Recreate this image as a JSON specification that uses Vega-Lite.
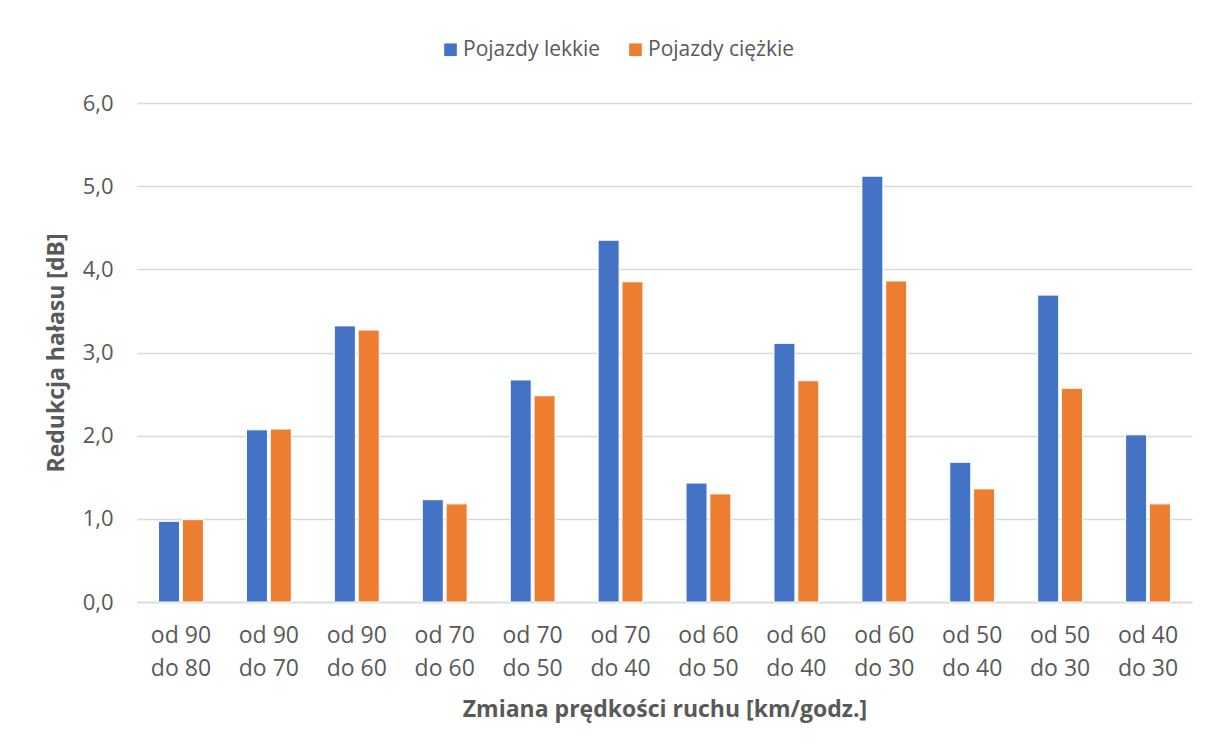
{
  "$schema": "https://vega.github.io/schema/vega-lite/v6.json",
  "width": 1055,
  "height": 499,
  "autosize": {"type": "none"},
  "padding": {"left": 137, "top": 103, "right": 16, "bottom": 149},
  "background": "white",
  "data": {
    "values": [
      {"zmiana": "od 90 do 80", "typ": "Pojazdy lekkie", "v": 0.97},
      {"zmiana": "od 90 do 80", "typ": "Pojazdy ciężkie", "v": 0.99},
      {"zmiana": "od 90 do 70", "typ": "Pojazdy lekkie", "v": 2.07},
      {"zmiana": "od 90 do 70", "typ": "Pojazdy ciężkie", "v": 2.08},
      {"zmiana": "od 90 do 60", "typ": "Pojazdy lekkie", "v": 3.32},
      {"zmiana": "od 90 do 60", "typ": "Pojazdy ciężkie", "v": 3.27},
      {"zmiana": "od 70 do 60", "typ": "Pojazdy lekkie", "v": 1.23},
      {"zmiana": "od 70 do 60", "typ": "Pojazdy ciężkie", "v": 1.18},
      {"zmiana": "od 70 do 50", "typ": "Pojazdy lekkie", "v": 2.67},
      {"zmiana": "od 70 do 50", "typ": "Pojazdy ciężkie", "v": 2.48},
      {"zmiana": "od 70 do 40", "typ": "Pojazdy lekkie", "v": 4.35},
      {"zmiana": "od 70 do 40", "typ": "Pojazdy ciężkie", "v": 3.85},
      {"zmiana": "od 60 do 50", "typ": "Pojazdy lekkie", "v": 1.43},
      {"zmiana": "od 60 do 50", "typ": "Pojazdy ciężkie", "v": 1.30},
      {"zmiana": "od 60 do 40", "typ": "Pojazdy lekkie", "v": 3.11},
      {"zmiana": "od 60 do 40", "typ": "Pojazdy ciężkie", "v": 2.66},
      {"zmiana": "od 60 do 30", "typ": "Pojazdy lekkie", "v": 5.12},
      {"zmiana": "od 60 do 30", "typ": "Pojazdy ciężkie", "v": 3.86},
      {"zmiana": "od 50 do 40", "typ": "Pojazdy lekkie", "v": 1.68},
      {"zmiana": "od 50 do 40", "typ": "Pojazdy ciężkie", "v": 1.36},
      {"zmiana": "od 50 do 30", "typ": "Pojazdy lekkie", "v": 3.69},
      {"zmiana": "od 50 do 30", "typ": "Pojazdy ciężkie", "v": 2.57},
      {"zmiana": "od 40 do 30", "typ": "Pojazdy lekkie", "v": 2.01},
      {"zmiana": "od 40 do 30", "typ": "Pojazdy ciężkie", "v": 1.18}
    ]
  },
  "mark": {"type": "bar", "stroke": "white", "strokeWidth": 1},
  "encoding": {
    "x": {
      "field": "zmiana",
      "type": "nominal",
      "sort": null,
      "scale": {"paddingInner": 0.49, "paddingOuter": 0.245},
      "axis": {
        "title": "Zmiana prędkości ruchu [km/godz.]",
        "labelAngle": 0,
        "labelExpr": "[slice(datum.value,0,5), slice(datum.value,6)]",
        "labelLineHeight": 33,
        "labelPadding": 22,
        "labelFontSize": 23,
        "labelColor": "#595959",
        "labelFont": "Open Sans",
        "ticks": false,
        "domain": true,
        "domainColor": "#d9d9d9",
        "domainWidth": 1.5,
        "titleFont": "Open Sans",
        "titleFontSize": 23,
        "titleFontWeight": "bold",
        "titleColor": "#595959",
        "titlePadding": 18
      }
    },
    "xOffset": {
      "field": "typ",
      "type": "nominal",
      "sort": ["Pojazdy lekkie", "Pojazdy ciężkie"],
      "scale": {"paddingInner": 0.12}
    },
    "y": {
      "field": "v",
      "type": "quantitative",
      "scale": {"domain": [0, 6]},
      "axis": {
        "title": "Redukcja hałasu [dB]",
        "values": [0, 1, 2, 3, 4, 5, 6],
        "labelExpr": "replace(format(datum.value,'.1f'),'.',',')",
        "labelFontSize": 22,
        "labelColor": "#595959",
        "labelFont": "Open Sans",
        "labelPadding": 24,
        "ticks": false,
        "domain": false,
        "grid": true,
        "gridColor": "#d9d9d9",
        "gridWidth": 1.5,
        "titleFont": "Open Sans",
        "titleFontSize": 23,
        "titleFontWeight": "bold",
        "titleColor": "#595959",
        "titlePadding": 14
      }
    },
    "color": {
      "field": "typ",
      "type": "nominal",
      "sort": ["Pojazdy lekkie", "Pojazdy ciężkie"],
      "scale": {"domain": ["Pojazdy lekkie", "Pojazdy ciężkie"], "range": ["#4472C4", "#ED7D31"]},
      "legend": {
        "title": null,
        "orient": "none",
        "direction": "horizontal",
        "legendX": 303,
        "legendY": -64,
        "symbolType": "square",
        "symbolSize": 160,
        "symbolStrokeWidth": 0,
        "labelFontSize": 21,
        "labelFont": "Open Sans",
        "labelColor": "#595959",
        "columnPadding": 24,
        "labelOffset": 2
      }
    }
  },
  "config": {"view": {"stroke": null}}
}
